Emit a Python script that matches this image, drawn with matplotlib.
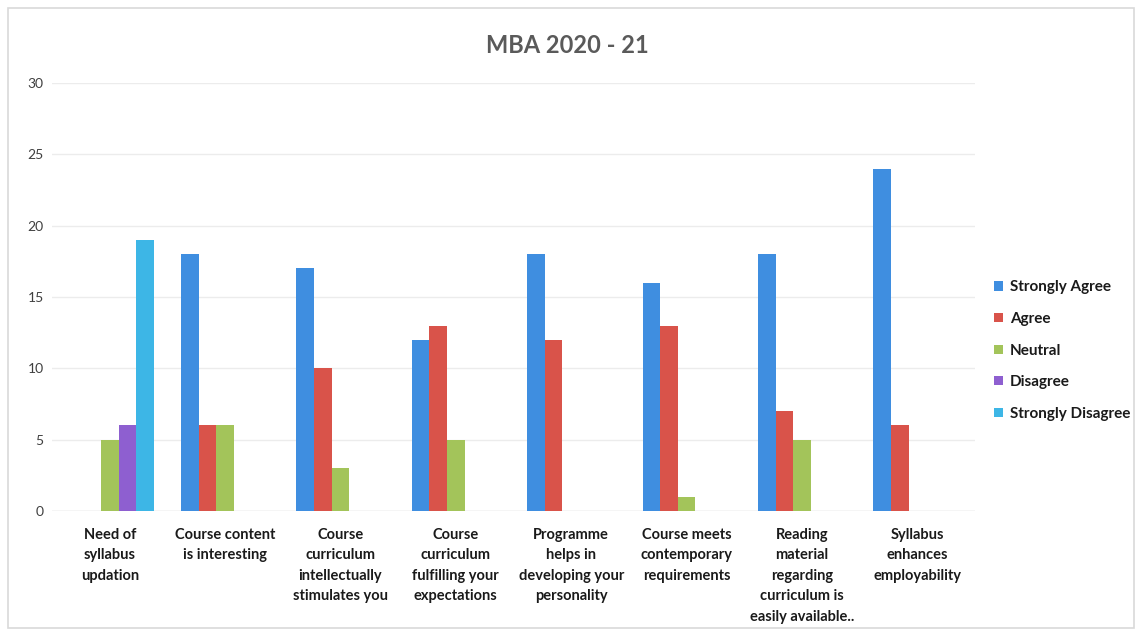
import numpy as np
import matplotlib.pyplot as plt
from matplotlib.patches import Rectangle

# survey responses, MBA 2020-21
categories = ['Need of\nsyllabus\nupdation',
              'Course content\nis interesting',
              'Course\ncurriculum\nintellectually\nstimulates you',
              'Course\ncurriculum\nfulfilling your\nexpectations',
              'Programme\nhelps in\ndeveloping your\npersonality',
              'Course meets\ncontemporary\nrequirements',
              'Reading\nmaterial\nregarding\ncurriculum is\neasily available..',
              'Syllabus\nenhances\nemployability']
series_names = ['Strongly Agree', 'Agree', 'Neutral', 'Disagree', 'Strongly Disagree']
strongly_agree = [0, 18, 17, 12, 18, 16, 18, 24]
agree = [0, 6, 10, 13, 12, 13, 7, 6]
neutral = [5, 6, 3, 5, 0, 1, 5, 0]
disagree = [6, 0, 0, 0, 0, 0, 0, 0]
strongly_disagree = [19, 0, 0, 0, 0, 0, 0, 0]
yticks = [0, 5, 10, 15, 20, 25, 30]

colors = ['#3f8ee0', '#d9534a', '#a3c45a', '#8e5fd0', '#3db6e6']
all_series = [strongly_agree, agree, neutral, disagree, strongly_disagree]

plt.rcParams['font.family'] = ['Lato', 'DejaVu Sans']

fig = plt.figure(figsize=(11.41, 6.34), dpi=100)
fig.patches.append(Rectangle((0.007, 0.009), 0.987, 0.978, transform=fig.transFigure,
                             fill=False, edgecolor='#d9d9d9', linewidth=1.2))
ax = fig.add_axes([0.0456, 0.194, 0.809, 0.675])

x = np.arange(len(categories))
w = 0.153
for i in range(len(series_names)):
    ax.bar(x + (i - 2) * w, all_series[i], width=w, color=colors[i], label=series_names[i], zorder=3)

ax.set_xlim(-0.5, len(categories) - 0.5)
ax.set_ylim(0, 30)
ax.set_yticks(yticks)
ax.set_yticklabels([str(t) for t in yticks], color='#404040', fontsize=10)
ax.set_xticks(x)
ax.set_xticklabels(categories, fontsize=10.5, color='#1a1a1a', fontweight='bold', linespacing=1.6)
ax.tick_params(axis='both', length=0)
ax.tick_params(axis='x', pad=12)
ax.tick_params(axis='y', pad=6)
ax.grid(axis='y', color='#ececec', linewidth=1, zorder=0)
for s in ax.spines.values():
    s.set_visible(False)
ax.axhline(0, color='#e0e0e0', linewidth=1, zorder=2)

fig.text(0.497, 0.928, 'MBA 2020 - 21', ha='center', va='center', fontsize=17,
         fontweight='bold', color='#5a5a5a')

leg = ax.legend(loc='center left', bbox_to_anchor=(1.006, 0.375), frameon=False,
                fontsize=11, handlelength=0.55, handleheight=0.55, handletextpad=0.45,
                labelspacing=1.15)
for t in leg.get_texts():
    t.set_color('#1a1a1a')
    t.set_fontweight('bold')

plt.savefig('out.png', dpi=100)
